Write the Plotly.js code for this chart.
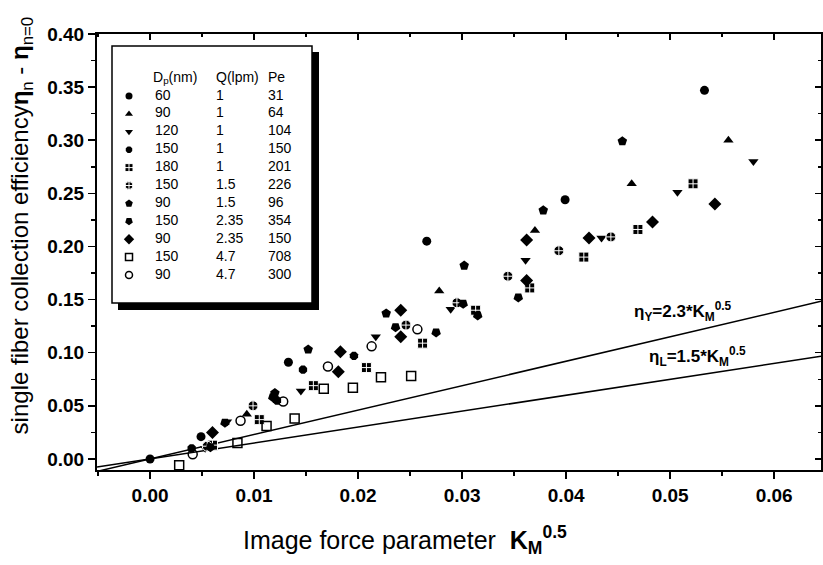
<!DOCTYPE html>
<html><head><meta charset="utf-8">
<script src="https://cdn.plot.ly/plotly-3.0.1.min.js"></script>
<style>html,body{margin:0;padding:0;background:#fff}</style>
</head><body><div id="chart" style="width:823px;height:565px"></div>
<script>
// ---- data ----
const dpLabels = ["60","90","120","150","180","150","90","150","90","150","90"];
const qLabels  = ["1","1","1","1","1","1.5","1.5","2.35","2.35","4.7","4.7"];
const peLabels = ["31","64","104","150","201","226","96","354","150","708","300"];

const s1x = [0, 0.0049, 0.0133, 0.0266, 0.0399, 0.0533];
const s1y = [0, 0.021, 0.091, 0.205, 0.244, 0.347];
const s2x = [0.0093, 0.0278, 0.0370, 0.0463, 0.0556];
const s2y = [0.042, 0.158, 0.215, 0.259, 0.300];
const s3x = [0.0053, 0.0074, 0.0145, 0.0217, 0.0289, 0.0361, 0.0434, 0.0507, 0.0580];
const s3y = [0.010, 0.035, 0.064, 0.115, 0.141, 0.187, 0.208, 0.251, 0.280];
const s4x = [0.0040, 0.0122, 0.0147, 0.0196];
const s4y = [0.010, 0.055, 0.084, 0.097];
const s5x = [0.0060, 0.0105, 0.0157, 0.0208, 0.0262, 0.0313, 0.0365, 0.0417, 0.0469, 0.0522];
const s5y = [0.013, 0.037, 0.069, 0.086, 0.109, 0.140, 0.161, 0.190, 0.216, 0.259];
const s6x = [0.0055, 0.0099, 0.0246, 0.0295, 0.0344, 0.0393, 0.0443];
const s6y = [0.012, 0.050, 0.126, 0.147, 0.172, 0.196, 0.209];
const s7x = [0.0120, 0.0152, 0.0227, 0.0302, 0.0378, 0.0454];
const s7y = [0.062, 0.103, 0.137, 0.182, 0.234, 0.299];
const s8x = [0.0058, 0.0072, 0.0118, 0.0236, 0.0275, 0.0301, 0.0315, 0.0354];
const s8y = [0.011, 0.034, 0.058, 0.124, 0.119, 0.146, 0.135, 0.152];
const s9x = [0.0060, 0.0181, 0.0183, 0.0241, 0.0241, 0.0362, 0.0362, 0.0422, 0.0483, 0.0543];
const s9y = [0.025, 0.082, 0.101, 0.115, 0.140, 0.168, 0.206, 0.208, 0.223, 0.240];
const s10x = [0.0028, 0.0084, 0.0112, 0.0139, 0.0167, 0.0195, 0.0222, 0.0251];
const s10y = [-0.006, 0.015, 0.031, 0.038, 0.066, 0.067, 0.077, 0.078];
const s11x = [0.0041, 0.0087, 0.0128, 0.0171, 0.0213, 0.0257];
const s11y = [0.0045, 0.036, 0.054, 0.087, 0.106, 0.122];

const slopeY = 2.3, slopeL = 1.5;
const xRange = [-0.0051, 0.0645];
const yRange = [-0.0104, 0.40];

// ---- styles ----
const K = '#000';
const FAM = 'Arial, Liberation Sans, sans-serif';
const styles = [
  {symbol:'circle', size:9, color:K},
  {symbol:'triangle-up', size:9, color:K},
  {symbol:'triangle-down', size:9, color:K},
  {symbol:'octagon', size:9, color:K},
  {symbol:'square-cross', size:10, color:K, line:{color:'#fff', width:1}},
  {symbol:'circle-cross', size:10, color:K, line:{color:'#fff', width:1}},
  {symbol:'pentagon', size:10, color:K},
  {symbol:'pentagon', size:10, color:K, angle:180},
  {symbol:'diamond', size:10, color:K},
  {symbol:'square-open', size:9, color:K, line:{color:K, width:1.5}},
  {symbol:'circle-open', size:9, color:K, line:{color:K, width:1.5}}
];
const seriesX = [s1x,s2x,s3x,s4x,s5x,s6x,s7x,s8x,s9x,s10x,s11x];
const seriesY = [s1y,s2y,s3y,s4y,s5y,s6y,s7y,s8y,s9y,s10y,s11y];

const traces = [];
traces.push({x:xRange, y:xRange.map(v=>slopeY*v), mode:'lines', line:{color:K,width:1.5}, hoverinfo:'skip'});
traces.push({x:xRange, y:xRange.map(v=>slopeL*v), mode:'lines', line:{color:K,width:1.5}, hoverinfo:'skip'});
seriesX.forEach((sx,i)=>{
  traces.push({x:sx, y:seriesY[i], mode:'markers', marker:Object.assign({line:{width:0}},styles[i]),
    name: dpLabels[i]+' '+qLabels[i]+' '+peLabels[i]});
});

// legend (drawn on an overlay axis pair measured in plot pixels)
const legMarkX = 32, legDpX = 58, legQX = 119, legPeX = 171;
const legHeadY = 44, legRow0 = 62, legStep = 17.9;
const rowsY = dpLabels.map((_,i)=>legRow0+i*legStep);
dpLabels.forEach((_,i)=>{
  traces.push({x:[legMarkX], y:[rowsY[i]], xaxis:'x2', yaxis:'y2', mode:'markers',
    marker:Object.assign({line:{width:0}},styles[i], {size:styles[i].size-2}), hoverinfo:'skip'});
});
const tf = {family:FAM, size:14, color:K};
traces.push({x:dpLabels.map(()=>legDpX), y:rowsY, text:dpLabels, xaxis:'x2', yaxis:'y2', mode:'text', textposition:'middle right', textfont:tf, hoverinfo:'skip'});
traces.push({x:qLabels.map(()=>legQX), y:rowsY, text:qLabels, xaxis:'x2', yaxis:'y2', mode:'text', textposition:'middle right', textfont:tf, hoverinfo:'skip'});
traces.push({x:peLabels.map(()=>legPeX), y:rowsY, text:peLabels, xaxis:'x2', yaxis:'y2', mode:'text', textposition:'middle right', textfont:tf, hoverinfo:'skip'});
traces.push({x:[legDpX-2, legQX, legPeX], y:[legHeadY,legHeadY,legHeadY], text:['D<sub>p</sub>(nm)','Q(lpm)','Pe'], xaxis:'x2', yaxis:'y2', mode:'text', textposition:'middle right', textfont:tf, hoverinfo:'skip'});
traces.push({x:[], y:[], xaxis:'x3', yaxis:'y3', mode:'markers', hoverinfo:'skip'});

const tickFont = {family:FAM, size:19, color:K, weight:'bold'};
const layout = {
  width:823, height:565, margin:{l:97,r:2,t:34,b:95},
  paper_bgcolor:'#fff', plot_bgcolor:'#fff', showlegend:false,
  font:{family:FAM, color:K},
  xaxis:{range:xRange, tick0:0, dtick:0.01, tickformat:'.2f', ticks:'outside', ticklen:7, tickwidth:1.5, tickcolor:K,
    showline:true, linewidth:2, linecolor:K, zeroline:false, showgrid:false, tickfont:tickFont,
    minor:{dtick:0.005, ticks:'outside', ticklen:4, tickwidth:1.5, tickcolor:K, showgrid:false}},
  yaxis:{range:yRange, tick0:0, dtick:0.05, tickformat:'.2f', ticks:'outside', ticklen:7, tickwidth:1.5, tickcolor:K,
    showline:true, linewidth:2, linecolor:K, zeroline:false, showgrid:false, tickfont:tickFont,
    minor:{dtick:0.025, ticks:'outside', ticklen:4, tickwidth:1.5, tickcolor:K, showgrid:false}},
  xaxis3:{overlaying:'x', side:'top', range:xRange, tick0:0, dtick:0.01, ticks:'inside', ticklen:6, tickwidth:1.5, tickcolor:K,
    showticklabels:false, showline:true, linewidth:2, linecolor:K, zeroline:false, showgrid:false,
    minor:{dtick:0.005, ticks:'inside', ticklen:3, tickwidth:1.5, tickcolor:K}},
  yaxis3:{overlaying:'y', side:'right', range:yRange, tick0:0, dtick:0.05, ticks:'inside', ticklen:6, tickwidth:1.5, tickcolor:K,
    showticklabels:false, showline:true, linewidth:2, linecolor:K, zeroline:false, showgrid:false,
    minor:{dtick:0.025, ticks:'inside', ticklen:3, tickwidth:1.5, tickcolor:K}},
  xaxis2:{overlaying:'x', range:[0,724], visible:false, fixedrange:true},
  yaxis2:{overlaying:'y', range:[436,0], visible:false, fixedrange:true},
  shapes:[
    {type:'rect', xref:'x2', yref:'y2', x0:21, x1:222, y0:18, y1:276, fillcolor:K, line:{width:0}, layer:'below'},
    {type:'rect', xref:'x2', yref:'y2', x0:15, x1:215, y0:12, y1:269, fillcolor:'#fff', line:{color:K,width:1.5}, layer:'below'}
  ],
  annotations:[
    {xref:'paper', yref:'paper', x:-0.103, y:0.562, xanchor:'center', yanchor:'middle', textangle:-90, showarrow:false,
     text:'single fiber collection efficiency<b>η</b><sub>n</sub> - <b>η</b><sub>n=0</sub>',
     font:{size:24, color:K, family:FAM}},
    {xref:'paper', yref:'paper', x:0.425, y:-0.16, xanchor:'center', yanchor:'middle', showarrow:false,
     text:'Image force parameter  <b>K</b><sub><b>M</b></sub><sup><b>0.5</b></sup>',
     font:{size:25, color:K, family:FAM}},
    {xref:'x', yref:'y', x:0.0463, y:0.139, xanchor:'left', yanchor:'middle', showarrow:false,
     text:'<b>η</b><sub><b>Y</b></sub><b>=2.3*K</b><sub><b>M</b></sub><sup><b>0.5</b></sup>',
     font:{size:17, color:K, family:FAM}},
    {xref:'x', yref:'y', x:0.0478, y:0.096, xanchor:'left', yanchor:'middle', showarrow:false,
     text:'<b>η</b><sub><b>L</b></sub><b>=1.5*K</b><sub><b>M</b></sub><sup><b>0.5</b></sup>',
     font:{size:17, color:K, family:FAM}}
  ]
};
Plotly.newPlot('chart', traces, layout, {staticPlot:true, displayModeBar:false});
</script></body></html>
